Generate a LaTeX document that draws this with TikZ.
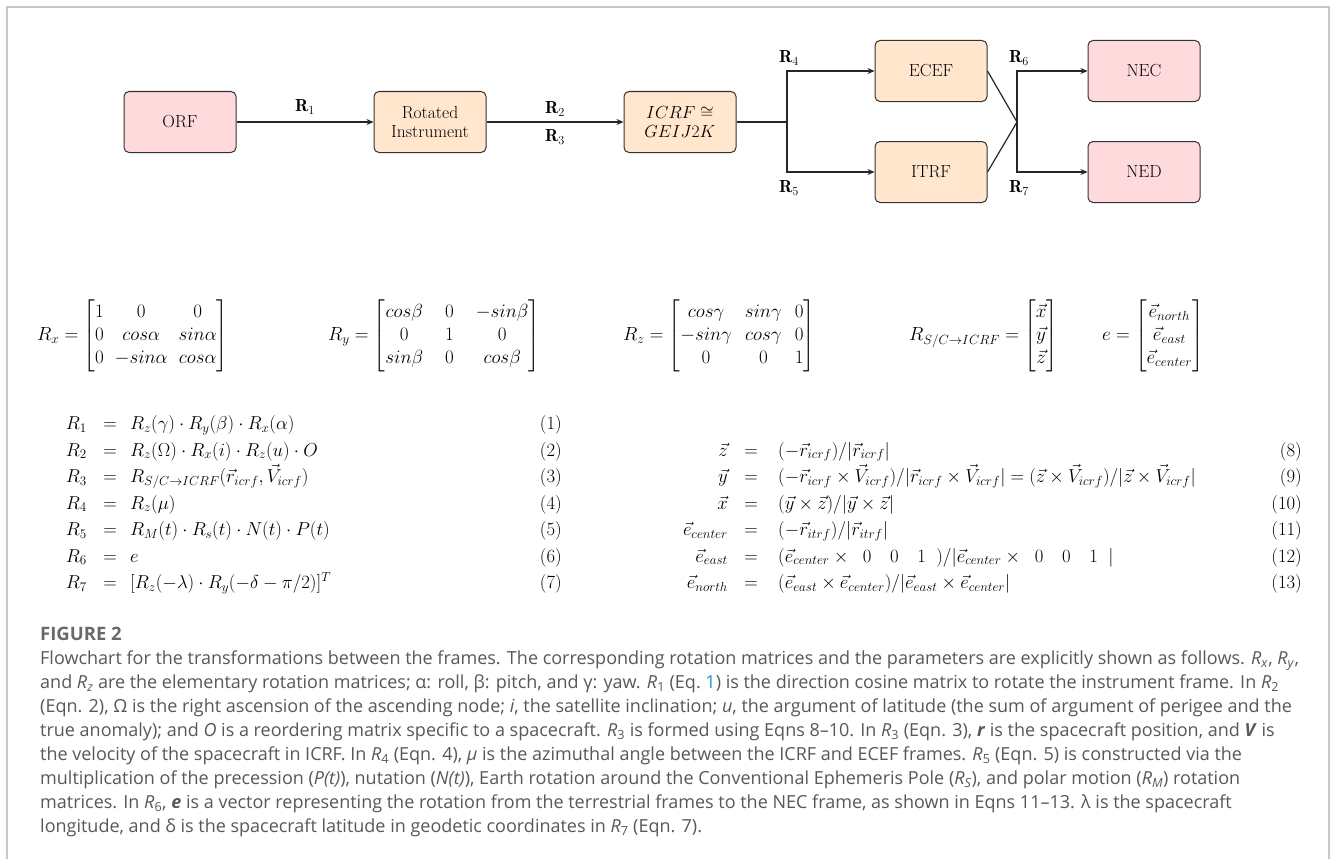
\RequirePackage{fix-cm}
\documentclass[tikz,border=0pt]{standalone}
\usepackage{amsmath}
\usepackage{fontspec}
\newfontfamily\capfont{Open Sans}
\usetikzlibrary{arrows.meta,positioning,calc}
\definecolor{pinkbox}{RGB}{255,218,220}
\definecolor{orangebox}{RGB}{255,230,204}
\definecolor{framegray}{RGB}{200,200,200}
\definecolor{captext}{RGB}{88,88,88}
\definecolor{caphead}{RGB}{105,105,105}
\definecolor{linkblue}{RGB}{30,150,200}
\setlength{\arraycolsep}{8pt}
\newcommand{\EqRow}[8]{%
  \node[eqf,anchor=base east] (l#1) at (#3,#2) {$#7$};
  \node[eqf,anchor=base] (q#1) at (#4,#2) {$=$};
  \node[eqf,anchor=base west] (r#1) at (#5,#2) {$#8$};
  \node[eqf,anchor=base east] (n#1) at (#6,#2) {(#1)};}
\newcommand{\capR}[1]{\textit{R}\textsubscript{#1}}
\begin{document}
\begin{tikzpicture}[x=1pt,y=-1pt,
  box/.style={draw=black!80, line width=1pt, rounded corners=5pt, minimum width=112pt, minimum height=61pt, align=center, font=\fontsize{17.5}{21}\selectfont, inner sep=2pt},
  pinkb/.style={box, fill=pinkbox},
  orangeb/.style={box, fill=orangebox},
  conn/.style={line width=1.2pt, black!85},
  arr/.style={conn, -{Stealth[length=7pt,width=6pt]}},
  rlab/.style={font=\fontsize{17.5}{21}\selectfont, inner sep=1pt},
  eqf/.style={font=\fontsize{18.7}{22}\selectfont, inner sep=0pt},
  matf/.style={font=\fontsize{19}{22.8}\selectfont, inner sep=0pt},
  capf/.style={font=\capfont\fontsize{18}{24}\selectfont, text=captext, inner sep=0pt, align=left, anchor=north west}
]
\useasboundingbox (0,0) rectangle (1331,859);
\fill[white] (0,0) rectangle (1331,859);
\draw[framegray, line width=1.5pt] (7,859) -- (7,7) -- (1329,7) -- (1329,859);

% flowchart
\node[pinkb] (orf) at (180,122) {ORF};
\node[orangeb] (rot) at (430,122) {Rotated\\[-2pt]Instrument};
\node[orangeb] (icrf) at (680,122) {$ICRF\cong$\\[-2pt]$GEIJ2K$};
\node[orangeb] (ecef) at (931,71) {ECEF};
\node[orangeb] (itrf) at (931,172) {ITRF};
\node[pinkb] (nec) at (1144,71) {NEC};
\node[pinkb] (ned) at (1144,172) {NED};
\coordinate (b) at (787,122);
\coordinate (m) at (1017,122);

\draw[arr] (orf) -- (rot);
\draw[arr] (rot) -- (icrf);
\draw[conn] (icrf.east) -- (b);
\draw[arr] (b) |- (ecef.west);
\draw[arr] (b) |- (itrf.west);
\draw[conn] (ecef.east) -- (m) -- (itrf.east);
\draw[arr] (m) |- (nec.west);
\draw[arr] (m) |- (ned.west);

\node[rlab] (l1) at (305,107) {$\mathbf{R}_1$};
\node[rlab] (l2) at (555,109) {$\mathbf{R}_2$};
\node[rlab] (l3) at (555,137) {$\mathbf{R}_3$};
\node[rlab] (l4) at (789,58) {$\mathbf{R}_4$};
\node[rlab] (l5) at (789,188) {$\mathbf{R}_5$};
\node[rlab] (l6) at (1019,58) {$\mathbf{R}_6$};
\node[rlab] (l7) at (1019,188) {$\mathbf{R}_7$};

% matrices
\node[matf, anchor=west] (mx) at (37,336) {\setlength{\arraycolsep}{5.5pt}$R_x=\begin{bmatrix}1&0&0\\0&cos\alpha&sin\alpha\\0&-sin\alpha&cos\alpha\end{bmatrix}$};
\node[matf, anchor=west] (my) at (328,336) {\setlength{\arraycolsep}{11pt}$R_y=\begin{bmatrix}cos\beta&0&-sin\beta\\0&1&0\\sin\beta&0&cos\beta\end{bmatrix}$};
\node[matf, anchor=west] (mz) at (623,336) {\setlength{\arraycolsep}{6.5pt}$R_z=\begin{bmatrix}cos\gamma&sin\gamma&0\\-sin\gamma&cos\gamma&0\\0&0&1\end{bmatrix}$};
\node[matf, anchor=west] (ms) at (909,336) {$R_{S/C\rightarrow ICRF}=\begin{bmatrix}\vec{x}\\\vec{y}\\\vec{z}\end{bmatrix}$};
\node[matf, anchor=west] (me) at (1102,336) {$e=\begin{bmatrix}\vec{e}_{north}\\\vec{e}_{east}\\\vec{e}_{center}\end{bmatrix}$};

% left equations
\EqRow{1}{429.5}{87}{110}{130}{562}{R_1}{R_z(\gamma)\cdot R_y(\beta)\cdot R_x(\alpha)}
\EqRow{2}{456}{87}{110}{130}{562}{R_2}{R_z(\Omega)\cdot R_x(i)\cdot R_z(u)\cdot O}
\EqRow{3}{482.5}{87}{110}{130}{562}{R_3}{R_{S/C\rightarrow ICRF}(\vec{r}_{icrf},\vec{V}_{icrf})}
\EqRow{4}{509}{87}{110}{130}{562}{R_4}{R_z(\mu)}
\EqRow{5}{535.5}{87}{110}{130}{562}{R_5}{R_M(t)\cdot R_s(t)\cdot N(t)\cdot P(t)}
\EqRow{6}{562}{87}{110}{130}{562}{R_6}{e}
\EqRow{7}{588.5}{87}{110}{130}{562}{R_7}{[R_z(-\lambda)\cdot R_y(-\delta-\pi/2)]^T}

% right equations
\EqRow{8}{456}{728}{751}{778}{1302}{\vec{z}}{(-\vec{r}_{icrf})/|\vec{r}_{icrf}|}
\EqRow{9}{482.5}{728}{751}{778}{1302}{\vec{y}}{(-\vec{r}_{icrf}\times\vec{V}_{icrf})/|\vec{r}_{icrf}\times\vec{V}_{icrf}|=(\vec{z}\times\vec{V}_{icrf})/|\vec{z}\times\vec{V}_{icrf}|}
\EqRow{10}{509}{728}{751}{778}{1302}{\vec{x}}{(\vec{y}\times\vec{z})/|\vec{y}\times\vec{z}|}
\EqRow{11}{535.5}{728}{751}{778}{1302}{\vec{e}_{center}}{(-\vec{r}_{itrf})/|\vec{r}_{itrf}|}
\EqRow{12}{562}{728}{751}{778}{1302}{\vec{e}_{east}}{(\vec{e}_{center}\times\;\;0\quad0\quad1\;\;)/|\vec{e}_{center}\times\;\;0\quad0\quad1\;\;|}
\EqRow{13}{588.5}{728}{751}{778}{1302}{\vec{e}_{north}}{(\vec{e}_{east}\times\vec{e}_{center})/|\vec{e}_{east}\times\vec{e}_{center}|}

% caption
\node[anchor=north west, inner sep=0pt, font=\capfont\bfseries\fontsize{18.5}{22}\selectfont, text=caphead] (fig) at (40,627) {FIGURE 2};
\node[capf] (cap) at (40,651) {Flowchart for the transformations between the frames. The corresponding rotation matrices and the parameters are explicitly shown as follows. \capR{\textit{x}}, \capR{\textit{y}},\\
and \capR{\textit{z}} are the elementary rotation matrices; α: roll, β: pitch, and γ: yaw. \capR{1} (Eq.~\textcolor{linkblue}{1}) is the direction cosine matrix to rotate the instrument frame. In \capR{2}\\
(Eqn. 2), Ω is the right ascension of the ascending node; \textit{i}, the satellite inclination; \textit{u}, the argument of latitude (the sum of argument of perigee and the\\
true anomaly); and \textit{O} is a reordering matrix specific to a spacecraft. \capR{3} is formed using Eqns 8–10. In \capR{3} (Eqn. 3), \textbf{\textit{r}} is the spacecraft position, and \textbf{\textit{V}} is\\
the velocity of the spacecraft in ICRF. In \capR{4} (Eqn. 4), \textit{μ} is the azimuthal angle between the ICRF and ECEF frames. \capR{5} (Eqn. 5) is constructed via the\\
multiplication of the precession (\textit{P(t)}), nutation (\textit{N(t)}), Earth rotation around the Conventional Ephemeris Pole (\capR{\textit{S}}), and polar motion (\capR{\textit{M}}) rotation\\
matrices. In \capR{6}, \textbf{\textit{e}} is a vector representing the rotation from the terrestrial frames to the NEC frame, as shown in Eqns 11–13. λ is the spacecraft\\
longitude, and δ is the spacecraft latitude in geodetic coordinates in \capR{7} (Eqn. 7).};
\end{tikzpicture}
\end{document}
